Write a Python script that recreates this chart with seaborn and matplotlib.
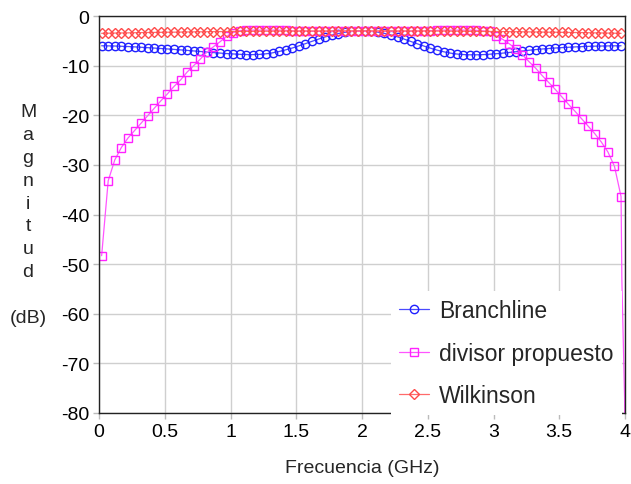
import numpy as np
import pandas as pd
import matplotlib
matplotlib.use("Agg")
import matplotlib.pyplot as plt
from matplotlib.ticker import FuncFormatter
import seaborn as sns

# ---------------- data ----------------
freq = np.round(0.02 + 0.05 * np.arange(80), 3)  # GHz sample grid

branchline = [
    -6.00, -6.02, -6.05, -6.10, -6.15, -6.22, -6.30, -6.38, -6.46, -6.55,
    -6.64, -6.73, -6.83, -6.93, -7.04, -7.15, -7.26, -7.37, -7.47, -7.57,
    -7.65, -7.72, -7.77, -7.78, -7.74, -7.62, -7.42, -7.15, -6.82, -6.45,
    -6.02, -5.57, -5.10, -4.65, -4.22, -3.85, -3.53, -3.28, -3.12, -3.03,
    -3.02, -3.10, -3.25, -3.50, -3.82, -4.20, -4.65, -5.12, -5.60, -6.05,
    -6.48, -6.87, -7.20, -7.47, -7.66, -7.77, -7.82, -7.82, -7.78, -7.70,
    -7.60, -7.48, -7.35, -7.20, -7.05, -6.90, -6.77, -6.65, -6.55, -6.45,
    -6.37, -6.30, -6.23, -6.17, -6.12, -6.08, -6.05, -6.03, -6.01, -6.00,
]

divisor = [
    -48.3, -33.2, -29.0, -26.5, -24.6, -23.1, -21.6, -20.1, -18.6, -17.1,
    -15.7, -14.2, -12.9, -11.3, -10.0, -8.7, -7.3, -6.2, -5.2, -4.1,
    -3.35, -2.95, -2.90, -2.85, -2.85, -2.85, -2.85, -2.85, -2.90, -3.00,
    -3.05, -3.05, -3.08, -3.10, -3.10, -3.10, -3.10, -3.10, -3.10, -3.10,
    -3.10, -3.10, -3.10, -3.10, -3.10, -3.10, -3.08, -3.05, -3.05, -3.00,
    -2.95, -2.90, -2.85, -2.85, -2.85, -2.85, -2.85, -2.90, -3.00, -3.10,
    -4.0, -4.7, -5.6, -6.6, -7.8, -9.2, -10.5, -12.0, -13.4, -14.8,
    -16.3, -17.8, -19.2, -20.7, -22.2, -23.7, -25.4, -27.4, -30.3, -36.4,
]
divisor_tail_freq = [3.976, 3.997, 4.0]
divisor_tail = [-53.0, -77.0, -95.0]

wilkinson = [
    -3.49, -3.47, -3.44, -3.42, -3.40, -3.37, -3.35, -3.33, -3.31, -3.29,
    -3.27, -3.26, -3.24, -3.22, -3.20, -3.19, -3.17, -3.16, -3.15, -3.13,
    -3.12, -3.11, -3.10, -3.09, -3.08, -3.07, -3.06, -3.05, -3.04, -3.04,
    -3.03, -3.02, -3.02, -3.01, -3.01, -3.01, -3.00, -3.00, -3.00, -3.00,
    -3.00, -3.00, -3.00, -3.00, -3.01, -3.01, -3.01, -3.02, -3.02, -3.03,
    -3.04, -3.04, -3.05, -3.06, -3.07, -3.08, -3.09, -3.10, -3.11, -3.12,
    -3.13, -3.15, -3.16, -3.17, -3.19, -3.20, -3.22, -3.24, -3.26, -3.27,
    -3.29, -3.31, -3.33, -3.35, -3.37, -3.40, -3.42, -3.44, -3.47, -3.49,
]

series_names = ["Branchline", "divisor propuesto", "Wilkinson"]
x_ticks = [0, 0.5, 1, 1.5, 2, 2.5, 3, 3.5, 4]
y_ticks = [0, -10, -20, -30, -40, -50, -60, -70, -80]
x_label = "Frecuencia (GHz)"
y_label = "M\na\ng\nn\ni\nt\nu\nd\n\n(dB)"

# ---------------- style ----------------
sns.set_theme(style="white")
plt.rcParams["font.family"] = ["Liberation Sans", "DejaVu Sans"]
plt.rcParams["axes.unicode_minus"] = False

fig = plt.figure(figsize=(6.31, 4.85), dpi=100)
ax = fig.add_axes([99 / 631, 1 - 414 / 485, 526 / 631, 397 / 485])

df_b = pd.DataFrame({"f": freq, "v": branchline})
df_d = pd.DataFrame({"f": list(freq) + divisor_tail_freq, "v": divisor + divisor_tail})
df_w = pd.DataFrame({"f": freq, "v": wilkinson})

sns.lineplot(data=df_b, x="f", y="v", ax=ax, color="#4a4aff", linewidth=0.9,
             marker="o", markersize=6.0, markerfacecolor="none",
             markeredgecolor="#1f1fff", markeredgewidth=1.0,
             label=series_names[0], estimator=None, sort=False)
sns.lineplot(data=df_d, x="f", y="v", ax=ax, color="#ff55ff", linewidth=0.9,
             marker="s", markersize=6.0, markerfacecolor="none",
             markeredgecolor="#ff22ff", markeredgewidth=1.0,
             markevery=list(range(len(divisor))),
             label=series_names[1], estimator=None, sort=False)
sns.lineplot(data=df_w, x="f", y="v", ax=ax, color="#ff6a6a", linewidth=0.9,
             marker="D", markersize=5.0, markerfacecolor="none",
             markeredgecolor="#ff4a4a", markeredgewidth=1.0,
             label=series_names[2], estimator=None, sort=False)

ax.set_xlim(0, 4)
ax.set_ylim(-80, 0)
ax.set_xticks(x_ticks)
ax.set_yticks(y_ticks)
ax.xaxis.set_major_formatter(FuncFormatter(lambda v, p: f"{v:g}"))
ax.yaxis.set_major_formatter(FuncFormatter(lambda v, p: f"{v:g}"))
ax.grid(True, color="#cfcfcf", linewidth=1.0)
ax.set_axisbelow(True)
for s in ax.spines.values():
    s.set_color("#222222")
    s.set_linewidth(1.0)
ax.tick_params(axis="both", which="major", direction="out", length=4,
               width=1, color="#bbbbbb", labelsize=14, labelcolor="black", pad=3)
ax.tick_params(axis="both", bottom=True, left=True)

ax.set_xlabel(x_label, fontsize=14, labelpad=14)
ax.set_ylabel("")
fig.text(28 / 631, 1 - 215.5 / 485, y_label, ha="center", va="center",
         fontsize=14, linespacing=1.46, multialignment="center")

leg = ax.legend(loc="center left", bbox_to_anchor=(0.555, 0.150), fontsize=16.5,
                frameon=True, fancybox=False, framealpha=1.0, facecolor="white",
                edgecolor="none", handlelength=1.3, handletextpad=0.45,
                labelspacing=0.85, borderpad=0.35, borderaxespad=0.0)

fig.savefig("out.png", dpi=100)
